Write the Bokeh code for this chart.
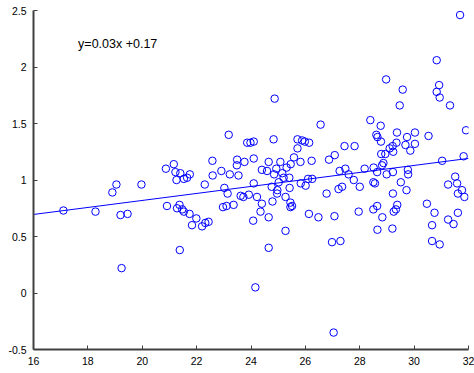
from bokeh.plotting import figure
from bokeh.models import FixedTicker, CustomJSTickFormatter, Range1d, Label
from bokeh.embed import file_html
from bokeh.resources import INLINE

# scatter data
x_vals = [17.10, 18.28, 18.90, 19.05, 19.20, 19.46, 19.24, 19.97, 20.87, 21.16,
          21.22, 21.40, 21.75, 21.65, 21.53, 21.26, 20.91, 21.37, 21.28, 21.47,
          21.53, 21.74, 21.99, 21.83, 22.20, 22.32, 22.44, 21.38, 22.30, 22.58,
          22.59, 22.91, 23.22, 23.48, 23.54, 23.02, 23.14, 22.97, 23.10, 23.36,
          23.18, 23.86, 23.98, 24.10, 24.83, 24.87, 25.71, 25.88, 25.98, 26.14,
          25.71, 23.49, 23.76, 24.10, 24.65, 25.08, 25.58, 25.82, 26.23, 26.87,
          24.40, 24.59, 24.93, 24.85, 25.15, 25.31, 25.46, 25.20, 25.41, 24.10,
          25.02, 25.83, 26.10, 26.01, 24.76, 24.97, 24.96, 25.42, 26.78, 23.62,
          23.72, 23.92, 24.22, 25.27, 24.40, 24.79, 25.45, 25.51, 25.45, 24.35,
          24.65, 26.13, 26.48, 24.08, 25.27, 24.65, 24.16, 26.56, 27.04, 26.25,
          27.26, 27.47, 27.59, 27.78, 28.00, 27.22, 27.35, 27.08, 27.44, 27.81,
          28.39, 28.77, 28.61, 28.65, 28.78, 29.37, 29.74, 30.03, 30.53, 31.91,
          29.68, 30.03, 29.86, 29.35, 29.21, 29.10, 29.23, 28.94, 28.79, 31.82,
          31.03, 28.87, 28.82, 28.18, 28.51, 28.64, 28.99, 29.22, 29.77, 29.78,
          28.50, 28.56, 29.51, 29.22, 29.72, 31.51, 31.58, 31.25, 31.76, 31.61,
          31.85, 30.47, 30.75, 31.61, 31.25, 31.45, 30.66, 30.66, 30.94, 27.07,
          27.96, 28.50, 28.64, 28.83, 29.25, 29.33, 29.38, 28.65, 29.20, 26.98,
          27.29, 31.69, 30.83, 28.97, 29.58, 30.92, 30.83, 30.94, 29.47, 31.32]
y_vals = [0.73, 0.72, 0.89, 0.96, 0.69, 0.70, 0.22, 0.96, 1.10, 1.14,
          1.07, 1.06, 1.05, 1.02, 1.01, 1.00, 0.77, 0.78, 0.75, 0.74,
          0.72, 0.70, 0.66, 0.60, 0.59, 0.62, 0.63, 0.38, 0.96, 1.17,
          1.04, 1.08, 1.05, 1.13, 1.04, 0.93, 0.88, 0.76, 0.77, 0.78,
          1.40, 1.33, 1.33, 1.34, 1.36, 1.72, 1.36, 1.35, 1.34, 1.33,
          1.28, 1.18, 1.16, 1.19, 1.16, 1.16, 1.20, 1.16, 1.17, 1.18,
          1.09, 1.08, 1.10, 1.05, 1.06, 1.11, 1.14, 1.02, 1.02, 0.97,
          0.98, 0.97, 1.01, 0.95, 0.94, 0.91, 0.88, 0.93, 0.88, 0.86,
          0.85, 0.87, 0.85, 0.85, 0.79, 0.81, 0.80, 0.77, 0.76, 0.72,
          0.67, 0.70, 0.67, 0.64, 0.55, 0.40, 0.05, 1.49, -0.35, 1.01,
          1.08, 1.10, 1.05, 1.00, 0.94, 0.92, 0.94, 1.22, 1.30, 1.30,
          1.53, 1.48, 1.40, 1.38, 1.34, 1.42, 1.38, 1.42, 1.39, 1.44,
          1.31, 1.32, 1.26, 1.33, 1.30, 1.28, 1.25, 1.23, 1.23, 1.21,
          1.17, 1.15, 1.13, 1.10, 1.11, 1.07, 1.05, 1.07, 1.09, 1.05,
          0.98, 0.97, 0.98, 0.88, 0.91, 1.03, 0.97, 0.96, 0.91, 0.88,
          0.85, 0.79, 0.71, 0.71, 0.65, 0.61, 0.60, 0.46, 0.43, 0.68,
          0.72, 0.74, 0.77, 0.67, 0.72, 0.74, 0.78, 0.56, 0.57, 0.45,
          0.46, 2.46, 2.06, 1.89, 1.80, 1.84, 1.78, 1.73, 1.66, 1.66]

# fitted line
fit_slope = 0.031
fit_intercept = 0.199
line_x = [16, 32]
line_y = [fit_slope * v + fit_intercept for v in line_x]
equation_text = "y=0.03x +0.17"

x_ticks = [16, 18, 20, 22, 24, 26, 28, 30, 32]
y_ticks = [-0.5, 0, 0.5, 1, 1.5, 2, 2.5]

p = figure(x_range=Range1d(16, 32), y_range=Range1d(-0.5, 2.5),
           frame_width=435, frame_height=339,
           min_border_left=33, min_border_right=6, min_border_top=10, min_border_bottom=24,
           output_backend="svg", toolbar_location=None)
p.outline_line_color = None
p.background_fill_color = "white"
p.border_fill_color = "white"
p.xgrid.visible = False
p.ygrid.visible = False

p.scatter(x_vals, y_vals, marker="circle", size=7.5, fill_color=None,
          line_color="#0000ff", line_width=1)
p.line(line_x, line_y, line_color="#0000ff", line_width=1)

p.add_layout(Label(x=17.64, y=2.205, text=equation_text, text_font="Liberation Sans",
                   text_font_size="12.5px", text_color="black", text_baseline="middle",
                   text_align="left"))

fmt = CustomJSTickFormatter(code="return String(tick);")
for ax, ticks, standoff in ((p.xaxis[0], x_ticks, 7), (p.yaxis[0], y_ticks, 7)):
    ax.ticker = FixedTicker(ticks=ticks)
    ax.formatter = fmt
    ax.minor_tick_line_color = None
    ax.major_tick_in = 4
    ax.major_tick_out = 0
    ax.axis_line_color = "#404040"
    ax.axis_line_width = 2
    ax.major_tick_line_color = "#404040"
    ax.major_tick_line_width = 1
    ax.major_label_text_font = "Liberation Sans"
    ax.major_label_text_font_size = "10.5px"
    ax.major_label_text_color = "black"
    ax.major_label_standoff = standoff

open("out.html", "w").write(file_html(p, INLINE))
